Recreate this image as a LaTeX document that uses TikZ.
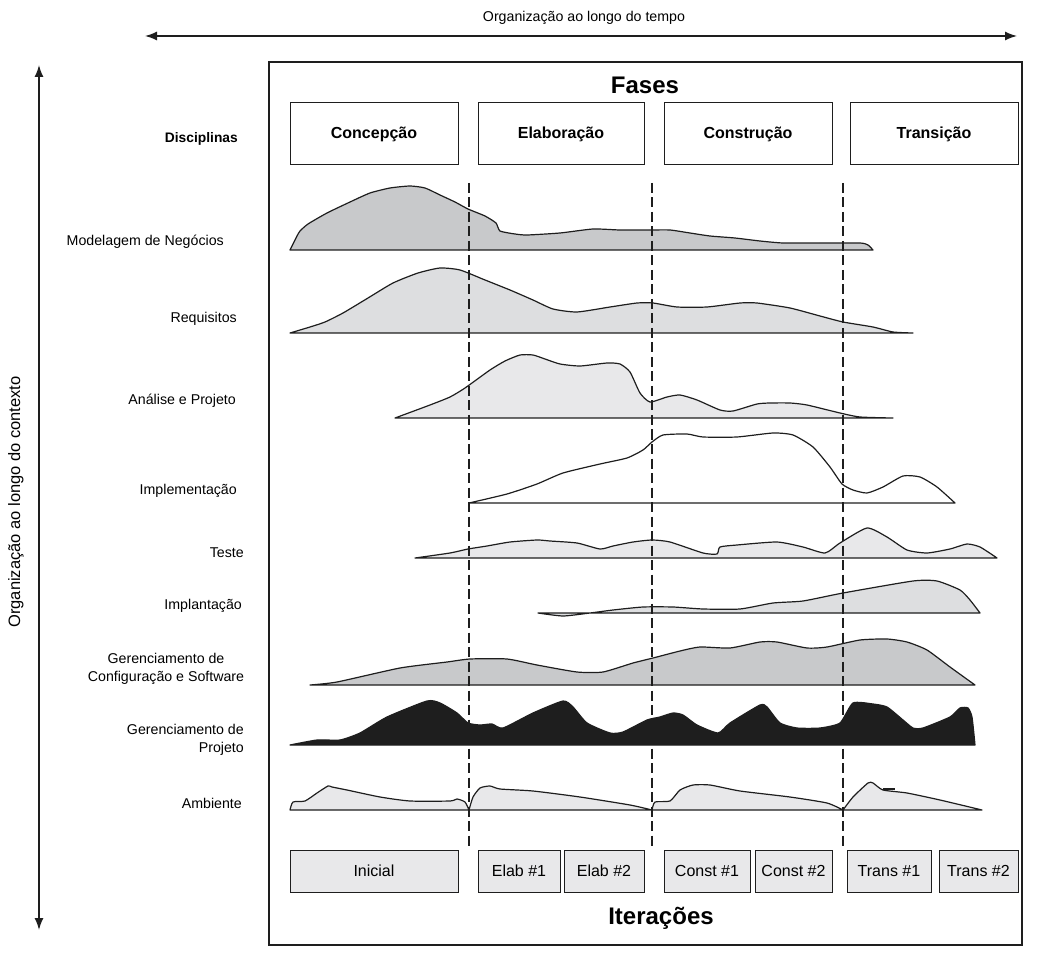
\documentclass[tikz,border=0pt]{standalone}
\usepackage{fontspec}
\setmainfont{Liberation Sans}
\usetikzlibrary{arrows.meta}
\definecolor{gdark}{RGB}{200,201,203}
\definecolor{glight}{RGB}{221,222,224}
\definecolor{gpale}{RGB}{232,232,234}
\definecolor{ink}{RGB}{30,30,30}
\begin{document}
\begin{tikzpicture}[x=1pt,y=-1pt,
  lbl/.style={font=\fontsize{14.2}{18}\selectfont, inner sep=0pt},
  head/.style={font=\bfseries\fontsize{24}{28}\selectfont, inner sep=0pt},
  phasebox/.style={draw=ink, line width=1pt, minimum height=62pt, inner sep=0pt,
    font=\bfseries\fontsize{16}{18}\selectfont},
  iterbox/.style={draw=ink, fill=gpale, line width=1pt, minimum height=42pt, inner sep=0pt,
    font=\fontsize{16}{18}\selectfont},
  hump/.style={draw=ink, line width=1.2pt, line join=round},
  phaseline/.style={draw=ink, line width=2.4pt, dash pattern=on 10pt off 4.5pt},
  axis/.style={draw=ink, line width=1.4pt, {Latex[length=12pt,width=9pt]}-{Latex[length=12pt,width=9pt]}},
  sm/.style={smooth, tension=0.35}]
\useasboundingbox (0,0) rectangle (1039,957);

% axes outside the frame
\coordinate (tl) at (145,36);
\coordinate (tr) at (1017,36);
\draw[axis] (tl) -- (tr);
\node[lbl] (timelbl) at (584,18) {Organização ao longo do tempo};
\coordinate (vt) at (39,65);
\coordinate (vb) at (39,930);
\draw[axis] (vt) -- (vb);
\node[lbl, rotate=90, font=\fontsize{16.5}{18}\selectfont] (ctxlbl) at (16,502) {Organização ao longo do contexto};

% frame
\draw[ink, line width=1.4pt] (269,62) rectangle (1022,945);

% headings
\node[head] (fases) at (645,85) {Fases};
\node[head] (iter) at (661,918) {Iterações};
\node[lbl, font=\bfseries\fontsize{13.8}{18}\selectfont, anchor=east] (disc) at (238,139) {Disciplinas};

% phases
\node[phasebox, minimum width=168pt] (p1) at (374,134) {Concepção};
\node[phasebox, minimum width=166pt] (p2) at (561,134) {Elaboração};
\node[phasebox, minimum width=168pt] (p3) at (748,134) {Construção};
\node[phasebox, minimum width=168pt] (p4) at (934,134) {Transição};

% iterations
\node[iterbox, minimum width=168pt] (i1) at (374,871) {Inicial};
\node[iterbox, minimum width=82pt] (i2) at (519,871) {Elab \#1};
\node[iterbox, minimum width=80pt] (i3) at (604,871) {Elab \#2};
\node[iterbox, minimum width=86pt] (i4) at (707,871) {Const \#1};
\node[iterbox, minimum width=77pt] (i5) at (793.5,871) {Const \#2};
\node[iterbox, minimum width=84pt] (i6) at (889,871) {Trans \#1};
\node[iterbox, minimum width=79pt] (i7) at (978.5,871) {Trans \#2};

% discipline labels
\node[lbl, anchor=east] (d1) at (224,242) {Modelagem de Negócios};
\node[lbl, anchor=east] (d2) at (237,319) {Requisitos};
\node[lbl, anchor=east] (d3) at (236,401) {Análise e Projeto};
\node[lbl, anchor=east] (d4) at (237,491) {Implementação};
\node[lbl, anchor=east] (d5) at (244,553) {Teste};
\node[lbl, anchor=east] (d6) at (242,606) {Implantação};
\node[lbl, align=center] (d7) at (166,669) {Gerenciamento de\\Configuração e Software};
\node[lbl, align=right, anchor=east] (d8) at (244,740) {Gerenciamento de\\Projeto};
\node[lbl, anchor=east] (d9) at (242,803) {Ambiente};

% workload curves
\filldraw[hump, fill=gdark] plot[sm] coordinates {(290,250) (293,244) (297,236) (300,231) (308,224) (327,213) (350,202) (370,193) (390,188) (410,186) (425,188) (440,195) (455,202) (468,209) (485,216) (496,223) (500,231) (515,234) (527,235) (560,233) (593,229) (620,230) (650,230) (670,230) (690,233) (710,236) (735,238) (760,241) (783,243) (820,243) (860,243) (868,245) (873,250)} -- cycle;

\filldraw[hump, fill=glight] plot[sm] coordinates {(290,333) (310,327) (325,322) (343,313) (368,298) (393,283) (418,273) (440,268) (460,270) (485,280) (510,290) (533,300) (553,309) (577,312) (610,307) (637,303) (653,303) (677,307) (707,307) (740,303) (757,303) (790,308) (820,316) (843,322) (873,327) (893,332) (913,333)} -- cycle;

\filldraw[hump, fill=gpale] plot[sm] coordinates {(395,418) (430,405) (450,397) (465,388) (490,370) (505,361) (520,355) (533,355) (545,359) (560,364) (580,366) (607,363) (620,364) (630,372) (640,393) (650,402) (667,397) (680,395) (697,400) (720,410) (733,411) (757,404) (770,403) (790,403) (807,405) (840,413) (860,417) (893,418)} -- cycle;

\draw[hump] plot[sm] coordinates {(469,503) (507,494) (537,484) (563,473) (600,464) (627,458) (643,450) (652,442) (663,435) (687,434) (703,437) (737,437) (773,433) (793,435) (813,447) (830,467) (842,484) (853,490) (867,493) (883,487) (903,476) (920,477) (937,487) (955,503)} -- cycle;

\filldraw[hump, fill=gpale] plot[sm] coordinates {(415,558) (450,553) (468,549) (487,546) (510,542) (537,540) (550,541) (577,543) (600,549) (613,546) (633,542) (652,540) (670,542) (703,553) (717,554) (720,547) (737,545) (777,542) (803,547) (825,553) (840,543) (867,528) (887,537) (907,550) (927,553) (950,549) (967,544) (980,547) (997,558)} -- cycle;

\filldraw[hump, fill=glight] plot[sm] coordinates {(538,613) (563,616) (590,613) (613,610) (643,607) (673,607) (703,609) (740,609) (773,603) (803,601) (843,593) (913,581) (937,581) (960,590) (970,600) (980,613)} -- cycle;

\filldraw[hump, fill=gdark] plot[sm] coordinates {(310,685) (337,682) (400,668) (447,662) (470,659) (507,659) (537,665) (577,672) (603,672) (633,663) (653,658) (680,651) (700,647) (730,648) (760,642) (777,642) (807,648) (827,647) (860,640) (887,639) (907,642) (927,650) (950,667) (975,685)} -- cycle;

\filldraw[hump, fill=ink] plot[sm] coordinates {(290,745) (317,740) (340,740) (360,733) (387,717) (427,701) (440,703) (457,713) (468,723) (480,725) (492,724) (503,728) (533,713) (563,701) (573,707) (587,723) (610,733) (623,732) (647,720) (660,717) (673,713) (683,715) (697,725) (718,733) (730,723) (760,705) (767,707) (780,723) (797,728) (820,728) (840,723) (853,703) (873,704) (887,707) (903,720) (913,728) (923,728) (950,717) (960,708) (968,708) (972,717) (975,745)} -- cycle;

\filldraw[hump, fill=gpale] plot[sm] coordinates {(290,810) (293,802) (305,801) (317,793) (328,786) (332,787) (347,790) (380,797) (410,801) (450,801) (457,799) (465,802) (469,810)} -- cycle;
\filldraw[hump, fill=gpale] plot[sm] coordinates {(469,810) (473,797) (480,788) (490,786) (500,789) (533,791) (580,797) (630,805) (652,810)} -- cycle;
\filldraw[hump, fill=gpale] plot[sm] coordinates {(652,810) (655,802) (670,801) (680,790) (693,785) (710,785) (740,791) (790,797) (827,803) (843,810)} -- cycle;
\filldraw[hump, fill=gpale] plot[sm] coordinates {(843,810) (853,797) (868,783) (873,783) (883,790) (907,793) (940,800) (982,810)} -- cycle;
\draw[hump] (883,789) -- (895,789);

% phase boundaries
\draw[phaseline] (469,183) -- (469,848);
\draw[phaseline] (652,183) -- (652,848);
\draw[phaseline] (843,183) -- (843,848);
\end{tikzpicture}
\end{document}
